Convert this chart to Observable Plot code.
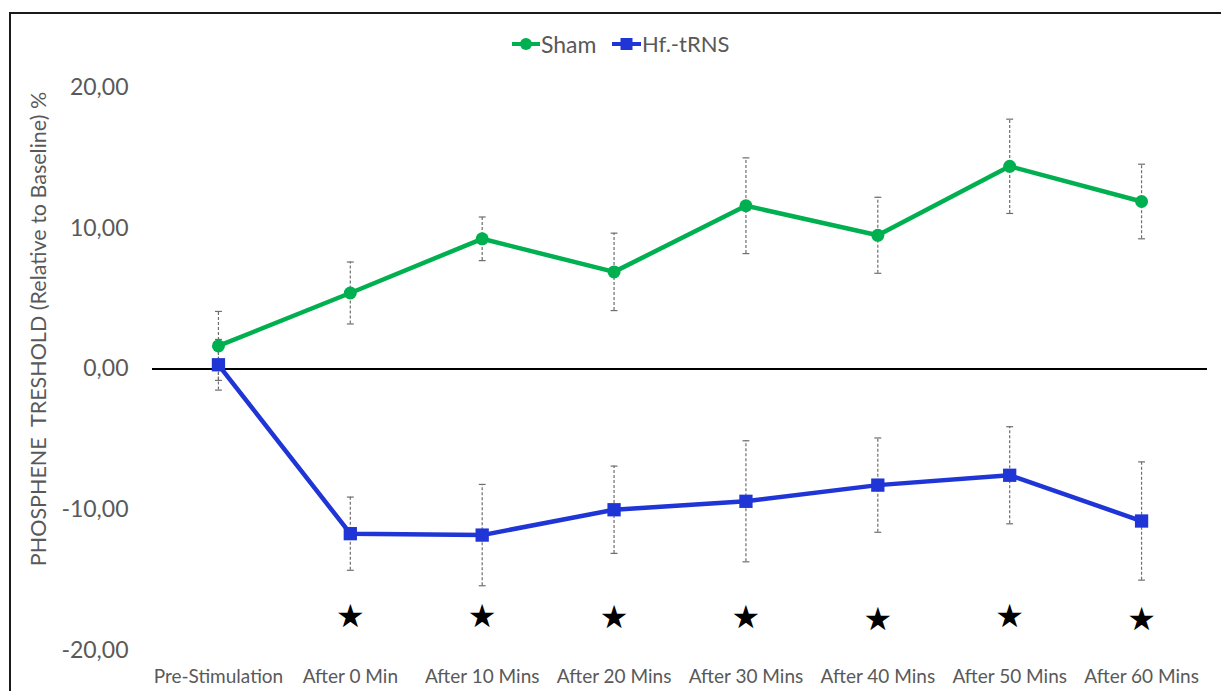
<!DOCTYPE html>
<html><head><meta charset="utf-8">
<script src="https://cdn.jsdelivr.net/npm/d3@7"></script>
<script src="https://cdn.jsdelivr.net/npm/@observablehq/plot@0.6"></script>
<style>
body{margin:0;background:#fff;}
#wrap{position:relative;width:1221px;height:691px;overflow:hidden;font-family:Lato,"Open Sans",sans-serif;}
#frame{position:absolute;left:9px;top:12px;width:1400px;height:900px;border-left:2px solid #1a1a1a;border-top:2px solid #1a1a1a;pointer-events:none;}
#chart{position:absolute;left:0;top:0;}
.lg{position:absolute;top:30px;display:flex;align-items:center;font-size:23px;color:#595959;}
.lg svg{margin-right:1px;}
</style>
</head><body>
<div id="wrap">
  <div id="chart"></div>
  <div id="frame"></div>
  <div class="lg" style="left:512px"><svg width="28" height="14"><line x1="0" y1="7" x2="28" y2="7" stroke="#00B050" stroke-width="4"/><circle cx="14" cy="7" r="6" fill="#00B050"/></svg><span>Sham</span></div>
  <div class="lg" style="left:612px;font-size:22px"><svg width="29" height="14"><line x1="0" y1="7" x2="29" y2="7" stroke="#1F35D6" stroke-width="4"/><rect x="8.5" y="1" width="12" height="12" fill="#1F35D6"/></svg><span>Hf.-tRNS</span></div>
</div>
<script>
const categories = ["Pre-Stimulation","After 0 Min","After 10 Mins","After 20 Mins","After 30 Mins","After 40 Mins","After 50 Mins","After 60 Mins"];
const shamMean = [1.64, 5.4, 9.25, 6.9, 11.6, 9.5, 14.4, 11.9];
const shamErr  = [2.45, 2.2, 1.55, 2.75, 3.4, 2.7, 3.35, 2.65];
const hfMean   = [0.3, -11.7, -11.8, -10.0, -9.4, -8.25, -7.55, -10.8];
const hfErr    = [1.8, 2.6, 3.6, 3.1, 4.3, 3.35, 3.45, 4.2];
const starCats = categories.slice(1);
const starLevel = [-17.6, -17.6, -17.7, -17.7, -17.8, -17.6, -17.8];
const yTicks = [-20, -10, 0, 10, 20];
const yLabel = "PHOSPHENE  TRESHOLD (Relative to Baseline) %";

const sham = categories.map((c,i)=>({cat:c, v:shamMean[i], e:shamErr[i]}));
const hf = categories.map((c,i)=>({cat:c, v:hfMean[i], e:hfErr[i]}));
const stars = starCats.map((c,i)=>({cat:c, v:starLevel[i]}));
const fmt = d => d.toFixed(2).replace(".", ",");
const green = "#00B050", blue = "#1F35D6", errC = "#6e6e6e";

const capSymbol = {draw(ctx, size){ const w = Math.sqrt(size)/2; ctx.moveTo(-w,0); ctx.lineTo(w,0); }};

function errMarks(data){
  return [
    Plot.ruleX(data, {x:"cat", y1:d=>d.v-d.e, y2:d=>d.v+d.e, stroke:errC, strokeWidth:1.2, strokeDasharray:"3,2"}),
    Plot.dot(data, {x:"cat", y:d=>d.v+d.e, symbol:capSymbol, r:3.9, stroke:errC, strokeWidth:1.2, fill:"none"}),
    Plot.dot(data, {x:"cat", y:d=>d.v-d.e, symbol:capSymbol, r:3.9, stroke:errC, strokeWidth:1.2, fill:"none"})
  ];
}

const chart = Plot.plot({
  width:1221, height:691,
  marginTop:87, marginBottom:41, marginLeft:152, marginRight:14,
  style:{fontFamily:"Lato, 'Open Sans', sans-serif", color:"#595959", background:"transparent", overflow:"visible"},
  x:{type:"point", domain:categories, padding:0.5, round:false, label:null},
  y:{domain:[-20,20], label:null},
  marks:[
    Plot.axisY({ticks:yTicks, tickSize:0, tickPadding:24, fontSize:23, tickFormat:fmt, label:null}),
    Plot.axisX({tickSize:0, tickPadding:19, fontSize:19, label:null}),
    Plot.text([yLabel], {text:d=>d, frameAnchor:"left", textAnchor:"middle", dx:-113, dy:-40, rotate:-90, fontSize:21.5, fill:"#595959"}),
    Plot.ruleY([0], {stroke:"#000", strokeWidth:2}),
    ...errMarks(sham),
    ...errMarks(hf),
    Plot.line(sham, {x:"cat", y:"v", stroke:green, strokeWidth:4.5}),
    Plot.line(hf, {x:"cat", y:"v", stroke:blue, strokeWidth:4.5}),
    Plot.dot(sham, {x:"cat", y:"v", fill:green, r:6.5, symbol:"circle"}),
    Plot.dot(hf, {x:"cat", y:"v", fill:blue, r:7.5, symbol:"square"}),
    Plot.text(stars, {x:"cat", y:"v", text:()=>"★", fontSize:32, fill:"#000", fontFamily:"DejaVu Sans"})
  ]
});
document.getElementById("chart").appendChild(chart);
</script>
</body></html>
